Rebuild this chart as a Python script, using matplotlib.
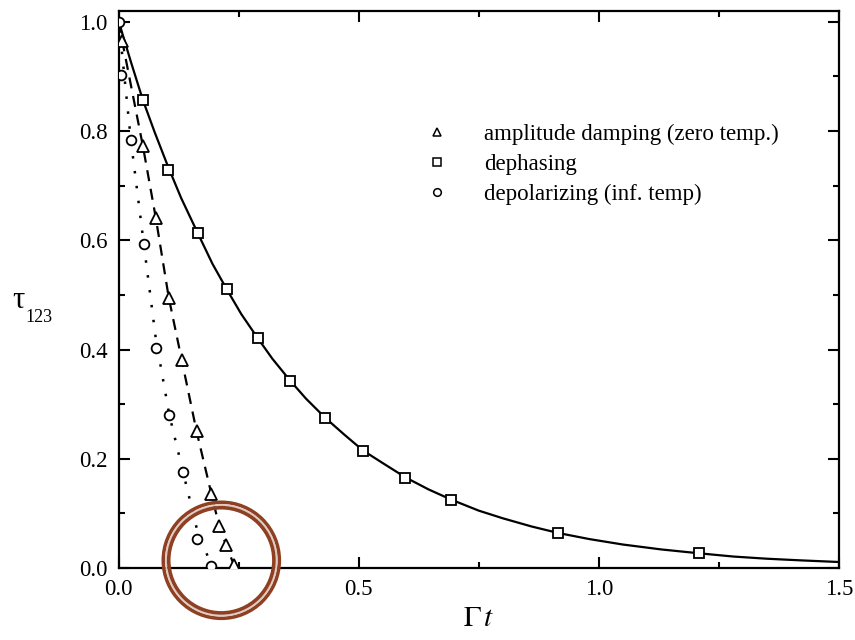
import matplotlib
matplotlib.use("Agg")
import matplotlib.pyplot as plt
from matplotlib.patches import Circle
from matplotlib.lines import Line2D

plt.rcParams["font.family"] = ["Liberation Serif", "DejaVu Serif"]
plt.rcParams["mathtext.fontset"] = "stix"

# amplitude damping (zero temp.) - triangles, dashed line
amp_t = [0.007, 0.05, 0.077, 0.104, 0.131, 0.162, 0.193, 0.209, 0.223, 0.24]
amp_y = [0.965, 0.773, 0.641, 0.495, 0.381, 0.250, 0.135, 0.077, 0.043, 0.005]
amp_line_t = [0.0, 0.007, 0.05, 0.077, 0.104, 0.131, 0.162, 0.193, 0.209, 0.223, 0.24, 0.248]
amp_line_y = [1.0, 0.965, 0.773, 0.641, 0.495, 0.381, 0.250, 0.135, 0.077, 0.043, 0.005, 0.0]

# dephasing - squares, solid line
deph_t = [0.05, 0.102, 0.165, 0.225, 0.29, 0.357, 0.43, 0.509, 0.597, 0.693, 0.916, 1.208]
deph_y = [0.857, 0.729, 0.614, 0.511, 0.421, 0.342, 0.275, 0.214, 0.165, 0.125, 0.064, 0.027]
deph_line_t = [0.0, 0.025, 0.05, 0.075, 0.102, 0.13, 0.165, 0.195, 0.225, 0.255, 0.29, 0.32,
               0.357, 0.39, 0.43, 0.47, 0.509, 0.55, 0.597, 0.645, 0.693, 0.75, 0.8, 0.86,
               0.916, 0.98, 1.05, 1.13, 1.208, 1.28, 1.35, 1.42, 1.5]
deph_line_y = [1.0, 0.927, 0.857, 0.797, 0.736, 0.677, 0.612, 0.557, 0.51, 0.465, 0.42, 0.383,
               0.343, 0.31, 0.275, 0.244, 0.215, 0.192, 0.166, 0.144, 0.125, 0.105, 0.091, 0.076,
               0.064, 0.053, 0.043, 0.034, 0.027, 0.021, 0.017, 0.014, 0.011]

# depolarizing (inf. temp) - circles, dotted line
dep_t = [0.0, 0.005, 0.025, 0.052, 0.077, 0.105, 0.134, 0.163, 0.193]
dep_y = [1.0, 0.903, 0.784, 0.593, 0.403, 0.281, 0.175, 0.053, 0.004]
dep_line_t = [0.0, 0.025, 0.052, 0.077, 0.105, 0.134, 0.163, 0.195]
dep_line_y = [1.0, 0.784, 0.593, 0.42, 0.281, 0.175, 0.07, 0.0]

labels = ["amplitude damping (zero temp.)", "dephasing", "depolarizing (inf. temp)"]

fig = plt.figure(figsize=(8.55, 6.4), dpi=100)
ax = fig.add_axes([0.139, 0.1125, 0.842, 0.8705])

ax.plot(deph_line_t, deph_line_y, color="black", lw=1.6, zorder=2)
ax.plot(amp_line_t, amp_line_y, color="black", lw=1.6, ls=(0, (5, 3.5)), zorder=2)
ax.plot(dep_line_t, dep_line_y, color="black", lw=1.8, ls=(0, (1, 5)), zorder=2)

mk = dict(ls="none", mfc="white", mec="black", mew=1.3, zorder=3, clip_on=True)
ax.plot(amp_t, amp_y, marker="^", ms=8, **mk)
ax.plot(deph_t, deph_y, marker="s", ms=7, **mk)
ax.plot(dep_t, dep_y, marker="o", ms=7, **mk)

handles = [
    Line2D([], [], ls="none", marker="^", ms=6, mfc="white", mec="black", mew=1.1),
    Line2D([], [], ls="none", marker="s", ms=5.5, mfc="white", mec="black", mew=1.1),
    Line2D([], [], ls="none", marker="o", ms=5.5, mfc="white", mec="black", mew=1.1),
]
ax.legend(handles, labels, loc="upper left", bbox_to_anchor=(0.41, 0.818),
          frameon=False, fontsize=16.5, handlelength=1.0, handletextpad=1.55,
          labelspacing=0.38, borderpad=0)

ax.set_xlim(0, 1.5)
ax.set_ylim(0, 1.02)
ax.set_xticks([0.0, 0.5, 1.0, 1.5])
ax.set_xticks([0.25, 0.75, 1.25], minor=True)
ax.set_yticks([0.0, 0.2, 0.4, 0.6, 0.8, 1.0])
ax.set_yticks([0.1, 0.3, 0.5, 0.7, 0.9], minor=True)
ax.xaxis.set_major_formatter(matplotlib.ticker.FormatStrFormatter("%.1f"))
ax.yaxis.set_major_formatter(matplotlib.ticker.FormatStrFormatter("%.1f"))
ax.tick_params(which="both", direction="in", top=True, right=True, width=1.5,
               labelsize=16.5)
ax.tick_params(which="major", length=8, pad=8)
ax.tick_params(which="minor", length=4.5)
for s in ax.spines.values():
    s.set_linewidth(1.6)

ax.set_xlabel(r"$\Gamma\,t$", fontsize=21, labelpad=4)
fig.text(18 / 855, 1 - 300 / 640, "τ", fontsize=22, ha="center", va="center")
fig.text(39 / 855, 1 - 318 / 640, "123", fontsize=13, ha="center", va="center")

# highlight ring drawn over the plot near the origin
ring_c = (2.213, 0.797)
for r, w, c in [(0.58, 2.6, "#8f4022"), (0.553, 1.5, "#e0cbc2"), (0.526, 2.6, "#8f4022")]:
    fig.add_artist(Circle(ring_c, r, transform=fig.dpi_scale_trans, fill=False,
                          lw=w, ec=c, zorder=10))

fig.savefig("out.png", dpi=100)
